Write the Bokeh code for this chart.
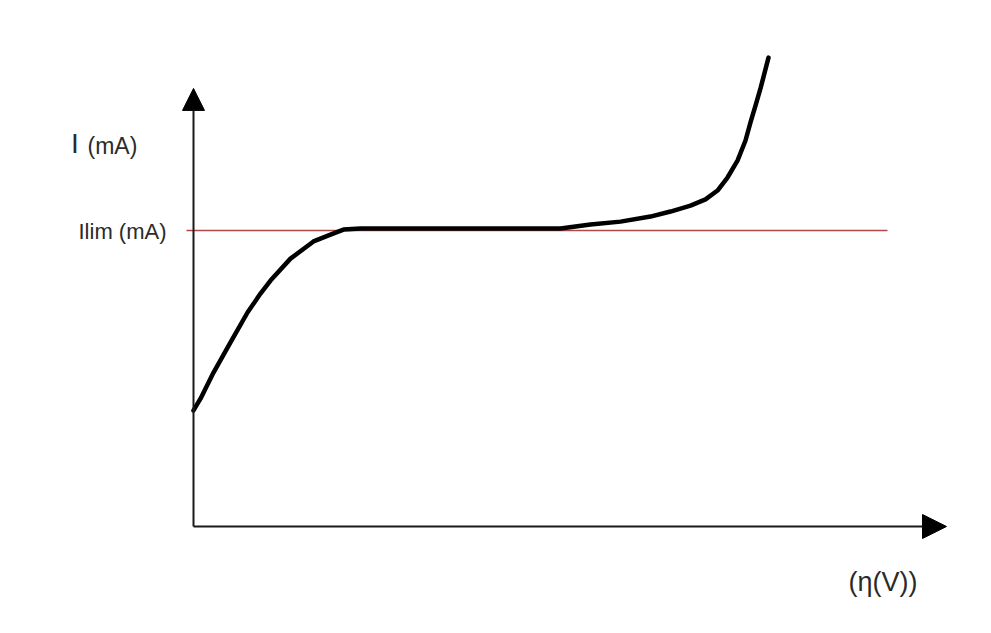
from bokeh.plotting import figure
from bokeh.models import Range1d, Arrow, NormalHead, Label
from bokeh.embed import file_html
from bokeh.resources import INLINE

# Conceptual polarization curve: current I (mA) vs overpotential eta (V)
eta = [0.00, 0.07, 0.20, 0.37, 0.54, 0.67, 0.77, 0.97, 1.20, 1.37, 1.50, 1.67,
       2.50, 3.67, 3.97, 4.27, 4.57, 4.77, 4.97, 5.12, 5.24, 5.34, 5.44, 5.52,
       5.57, 5.62, 5.67, 5.75]
current = [3.92, 4.32, 5.20, 6.22, 7.23, 7.87, 8.31, 9.05, 9.63, 9.86, 10.03, 10.07,
           10.07, 10.07, 10.20, 10.30, 10.47, 10.64, 10.84, 11.05, 11.35, 11.79, 12.36, 13.04,
           13.65, 14.22, 14.80, 15.84]
i_lim = 10.0
i_lim_span = [-0.07, 6.94]
x_axis_end = 7.53
y_axis_end = 14.80

y_label_main = "I"
y_label_unit = "(mA)"
lim_label = "Ilim (mA)"
x_label = "(η(V))"

p = figure(width=975, height=617, output_backend="svg", toolbar_location=None,
           x_range=Range1d(-1.93, 7.82), y_range=Range1d(-3.074, 17.77),
           x_axis_type=None, y_axis_type=None,
           min_border=0, min_border_left=0, min_border_right=0,
           min_border_top=0, min_border_bottom=0)
p.grid.visible = False
p.outline_line_color = None
p.background_fill_color = "white"
p.border_fill_color = "white"

# limiting current line
p.line(i_lim_span, [i_lim, i_lim], line_color="#b04848", line_width=1.3)

# axes with arrow heads
axis_col = "#1a1a1a"
p.add_layout(Arrow(end=NormalHead(size=24, fill_color="black", line_color="black", line_width=1),
                   x_start=0, y_start=0, x_end=x_axis_end, y_end=0,
                   line_color=axis_col, line_width=2))
p.add_layout(Arrow(end=NormalHead(size=22, fill_color="black", line_color="black", line_width=1),
                   x_start=0, y_start=0, x_end=0, y_end=y_axis_end,
                   line_color=axis_col, line_width=2))

# curve
p.line(eta, current, line_color="black", line_width=4.5, line_join="round", line_cap="round")

txt_col = "#2b2b2b"
font = "Liberation Sans"
p.add_layout(Label(x=-1.226, y=12.94, text=y_label_main, text_font=font,
                   text_font_size="28px", text_color=txt_col, text_baseline="alphabetic"))
p.add_layout(Label(x=-1.06, y=12.84, text=y_label_unit, text_font=font,
                   text_font_size="23px", text_color=txt_col, text_baseline="alphabetic"))
p.add_layout(Label(x=-1.15, y=9.97, text=lim_label, text_font=font,
                   text_font_size="22px", text_color=txt_col, text_baseline="alphabetic"))
p.add_layout(Label(x=6.55, y=-1.89, text=x_label, text_font=font,
                   text_font_size="27px", text_color=txt_col, text_baseline="alphabetic"))

open("out.html", "w").write(file_html(p, INLINE))
